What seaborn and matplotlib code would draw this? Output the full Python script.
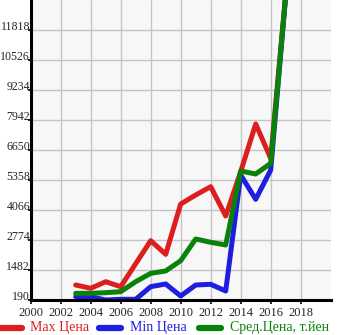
import matplotlib
matplotlib.use("Agg")
import matplotlib.pyplot as plt
import seaborn as sns
import pandas as pd
from matplotlib.lines import Line2D

years = [2003, 2004, 2005, 2006, 2007, 2008, 2009, 2010, 2011, 2012, 2013, 2014, 2015, 2016, 2017]
max_price = [836, 693, 978, 764, 1753, 2745, 2157, 4324, 4712, 5070, 3808, 5720, 7770, 6290, 13350]
min_price = [332, 332, 190, 220, 220, 764, 880, 362, 836, 866, 578, 5573, 4527, 5788, 13300]
avg_price = [477, 477, 505, 549, 978, 1338, 1440, 1884, 2817, 2675, 2559, 5745, 5616, 6076, 13300]

labels = ["Max Цена", "Min Цена", "Сред.Цена, т.йен"]
colors = ["#dc1e1e", "#1e1ee0", "#0a820a"]
yticks = [190, 1482, 2774, 4066, 5358, 6650, 7942, 9234, 10526, 11818]
xticks = list(range(2000, 2020, 2))

df = pd.concat([
    pd.DataFrame({"year": years, "value": max_price, "series": labels[0]}),
    pd.DataFrame({"year": years, "value": min_price, "series": labels[1]}),
    pd.DataFrame({"year": years, "value": avg_price, "series": labels[2]}),
])

sns.set_style("white")
plt.rcParams["font.family"] = ["Liberation Serif", "DejaVu Serif"]

W, H = 345, 335
fig = plt.figure(figsize=(W / 100, H / 100), dpi=100)
ax = fig.add_axes([30.7 / W, 35 / H, 300 / W, 300 / H])
ax.set_facecolor("#f7f7f7")

sns.lineplot(data=df, x="year", y="value", hue="series", palette=dict(zip(labels, colors)),
             linewidth=3.6, ax=ax, legend=False)

ax.set_xlim(2000, 2020)
ax.set_ylim(190, 13110)
ax.set_xticks(xticks)
ax.set_xticklabels([str(x) for x in xticks])
ax.set_yticks(yticks)
ax.set_yticklabels([str(y) for y in yticks])
ax.grid(True, color="#c4c4c4", linewidth=1.0)
ax.set_axisbelow(True)
ax.set_xlabel("")
ax.set_ylabel("")

for s in ["top", "right"]:
    ax.spines[s].set_visible(False)
for s in ["left", "bottom"]:
    ax.spines[s].set_visible(True)
    ax.spines[s].set_color("black")
    ax.spines[s].set_linewidth(2.2)

ax.tick_params(axis="x", length=3, width=1.2, color="black", pad=2, labelsize=9, direction="out", bottom=True)
ax.tick_params(axis="y", length=2, width=1.2, color="black", pad=-1.5, labelsize=8.6, direction="out", left=True)
for lab in ax.get_yticklabels():
    lab.set_verticalalignment("baseline")

# legend at bottom (figure pixel coordinates)
leg_y = 1 - 327.7 / H
handle_x = [(1, 22), (99, 121), (199, 221)]
text_x = [30, 130, 230]
for (x0, x1), tx, lab, c in zip(handle_x, text_x, labels, colors):
    fig.add_artist(Line2D([x0 / W, x1 / W], [leg_y, leg_y], color=c, linewidth=4.5,
                          solid_capstyle="round", transform=fig.transFigure))
    fig.text(tx / W, leg_y, lab, color=c, fontsize=10, va="center", ha="left")

fig.savefig("out.png", dpi=100)
